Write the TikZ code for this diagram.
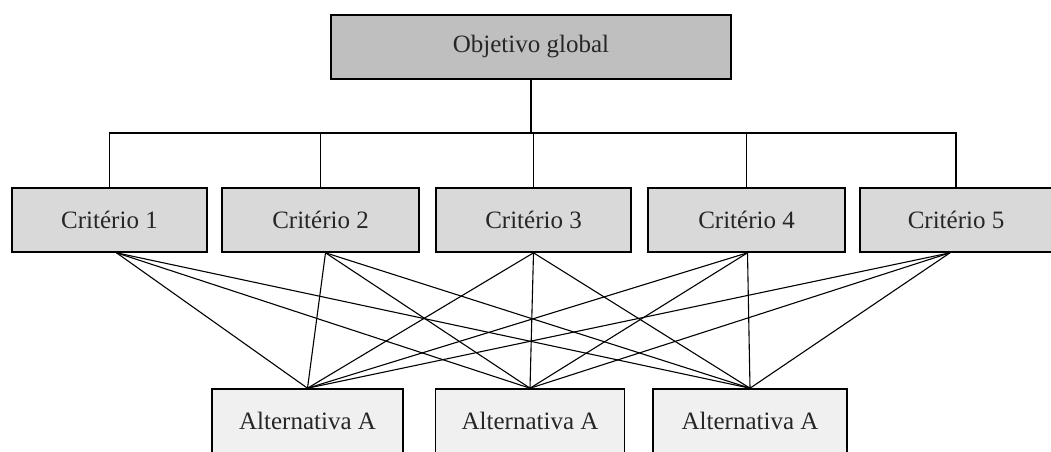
\documentclass[tikz,border=0pt]{standalone}
\usepackage{fontspec}
\setmainfont{Liberation Serif}
\begin{document}
\begin{tikzpicture}[x=1pt,y=-1pt,
  box/.style={draw=black, line width=1.6pt, rectangle, inner sep=0pt,
    font=\fontsize{25}{29}\selectfont, text=black!85},
  goalbox/.style={box, fill=black!25, minimum width=400pt, minimum height=64pt},
  critbox/.style={box, fill=black!15, minimum height=64pt},
  altbox/.style={box, fill=black!6, minimum height=64pt},
  link/.style={draw=black, line width=1.3pt}]
\useasboundingbox (0,0) rectangle (1051,451);
\fill[white] (0,0) rectangle (1051,451);

% goal
\node[goalbox] (goal) at (531,47) {Objetivo global};

% criteria
\node[critbox, minimum width=195pt] (c1) at (109.5,220) {Critério 1};
\node[critbox, minimum width=197pt] (c2) at (320.5,220) {Critério 2};
\node[critbox, minimum width=195pt] (c3) at (533.5,220) {Critério 3};
\node[critbox, minimum width=197pt] (c4) at (746.5,220) {Critério 4};
\node[critbox, minimum width=192pt] (c5) at (956,220) {Critério 5};

% alternatives
\node[altbox, minimum width=191pt] (a1) at (307.5,421) {Alternativa A};
\node[altbox, minimum width=189pt] (a2) at (530,421) {Alternativa A};
\node[altbox, minimum width=194pt] (a3) at (750,421) {Alternativa A};

% hierarchy bar
\coordinate (bar) at (531,133);
\draw[link] (goal.south) -- (bar);
\foreach \c in {c1,c2,c3,c4,c5} \draw[link] (bar) -| (\c.north);

% criteria to alternatives
\foreach \c/\s in {c1/7,c2/5,c3/0,c4/1,c5/-6}
  \foreach \a in {a1,a2,a3}
    \draw[link, line width=1.1pt] ([xshift=\s pt]\c.south) -- (\a.north);
\end{tikzpicture}
\end{document}
